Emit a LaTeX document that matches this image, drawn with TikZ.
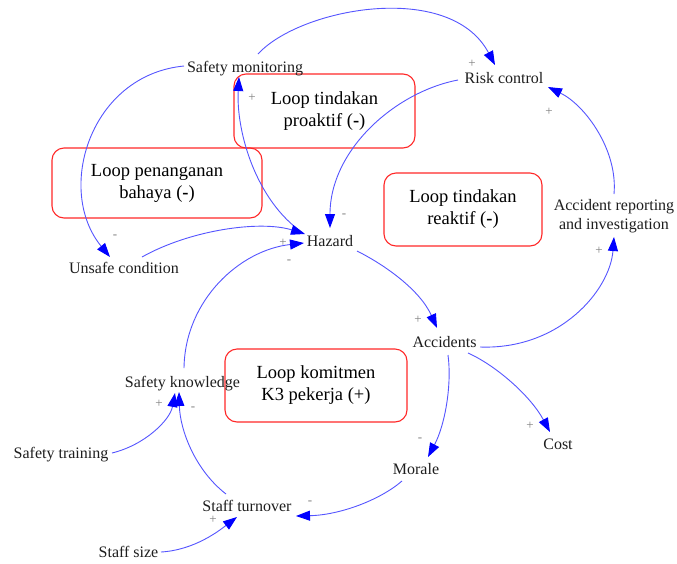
\documentclass[tikz,border=0pt]{standalone}
\usepackage{fontspec}
\setmainfont{Liberation Serif}
\usetikzlibrary{arrows.meta,calc}
\definecolor{linkblue}{RGB}{85,85,255}
\definecolor{boxred}{RGB}{255,40,40}
\definecolor{txt}{RGB}{30,30,30}
\begin{document}
\begin{tikzpicture}[x=1pt,y=-1pt,
  var/.style={font=\fontsize{16}{19}\selectfont, text=txt, inner sep=0pt, anchor=base},
  loopbox/.style={draw=boxred, line width=1.1pt, rounded corners=12pt, align=center,
    font=\fontsize{18.5}{22}\selectfont, inner sep=0pt},
  link/.style={draw=linkblue, line width=0.9pt,
    -{Triangle[length=14pt,width=10pt,color=blue,fill=blue]}},
  pol/.style={font=\fontsize{13}{13}\selectfont, text=gray, inner sep=0pt}]
\useasboundingbox (0,0) rectangle (677,563);
\fill[white] (0,0) rectangle (677,563);

% loop boxes
\node[loopbox, minimum width=181pt, minimum height=74pt] (bp) at (324.5,111) {Loop tindakan\\proaktif (\textbf{-})};
\node[loopbox, minimum width=210pt, minimum height=70pt] (bb) at (157,183) {Loop penanganan\\bahaya (\textbf{-})};
\node[loopbox, minimum width=158pt, minimum height=73pt] (br) at (463,209.5) {Loop tindakan\\reaktif (\textbf{-})};
\node[loopbox, minimum width=182pt, minimum height=73pt] (bk) at (316,385.5) {Loop komitmen\\K3 pekerja (+)};

% variables
\node[var] (sm) at (245,72) {Safety monitoring};
\node[var] (rc) at (504,83) {Risk control};
\node[var] (hz) at (330,246) {Hazard};
\node[var] (uc) at (124,273) {Unsafe condition};
\node[var] (ac) at (444.5,347) {Accidents};
\node[var] (co) at (558,449) {Cost};
\node[var] (mo) at (416,474) {Morale};
\node[var] (sk) at (182.5,387) {Safety knowledge};
\node[var] (stt) at (61,458) {Safety training};
\node[var] (sto) at (247,511) {Staff turnover};
\node[var] (ss) at (128.5,557) {Staff size};
\node[var, anchor=center, align=center] (ari) at (614,216) {Accident reporting\\and investigation};

% links
\draw[link] ($(sm.base)+(13,-18)$) .. controls +(42,-46) and +(-45,-85) .. ($(rc.base)+(-9,-18)$);
\draw[link] ($(rc.base)+(-46,-3)$) .. controls +(-63,12) and +(0,-78) .. ($(hz.base)+(0,-18)$);
\draw[link] ($(hz.base)+(-27,-13)$) .. controls +(-48,-33) and +(-3,53) .. ($(sm.base)+(-6,5)$);
\draw[link] ($(sm.base)+(-61,-6)$) .. controls +(-94,9) and +(-55,-67) .. ($(uc.base)+(-14,-16)$);
\draw[link] ($(uc.base)+(18,-16)$) .. controls +(48,-27) and +(-45,-14) .. ($(hz.base)+(-25,-12)$);
\draw[link] ($(sk.base)+(1.5,-19)$) .. controls +(1,-68) and +(-64,7) .. ($(hz.base)+(-26,-3)$);
\draw[link] ($(hz.base)+(27,5)$) .. controls +(28,14) and +(-17,-38) .. ($(ac.base)+(-7.5,-19)$);
\draw[link] ($(ac.base)+(35.5,0)$) .. controls +(80,3) and +(-4,53) .. ($(ari.center)+(0,21)$);
\draw[link] ($(ari.center)+(0,-22)$) .. controls +(4,-44) and +(37,18) .. ($(rc.base)+(44,4)$);
\draw[link] ($(ac.base)+(23.5,6)$) .. controls +(27,12) and +(-20,-37) .. ($(co.base)+(-8,-17)$);
\draw[link] ($(ac.base)+(3.5,8)$) .. controls +(4,30) and +(17,-32) .. ($(mo.base)+(12,-17)$);
\draw[link] ($(mo.base)+(-14,7)$) .. controls +(-22,19) and +(44,-1) .. ($(sto.base)+(49,5)$);
\draw[link] ($(sto.base)+(-21,-17)$) .. controls +(-31,-24) and +(1,38) .. ($(sk.base)+(-3.5,5)$);
\draw[link] ($(stt.base)+(51,-5)$) .. controls +(33,-8) and +(-5,27) .. ($(sk.base)+(-7.5,6)$);
\draw[link] ($(ss.base)+(32.5,-5)$) .. controls +(34,-2) and +(-17,13) .. ($(sto.base)+(-10,6)$);

% polarities
\node[pol] (l1) at (472,64) {+};
\node[pol] (l2) at (344,216) {-};
\node[pol] (l3) at (252,98) {+};
\node[pol] (l4) at (115,237) {-};
\node[pol] (l5) at (283,243) {+};
\node[pol] (l6) at (289,262) {-};
\node[pol] (l7) at (418,320) {+};
\node[pol] (l8) at (599,251) {+};
\node[pol] (l9) at (549,112) {+};
\node[pol] (l10) at (530,426) {+};
\node[pol] (l11) at (420,440) {-};
\node[pol] (l12) at (310,503) {-};
\node[pol] (l13) at (193,409) {-};
\node[pol] (l14) at (159,404) {+};
\node[pol] (l15) at (213,520) {+};
\end{tikzpicture}
\end{document}
